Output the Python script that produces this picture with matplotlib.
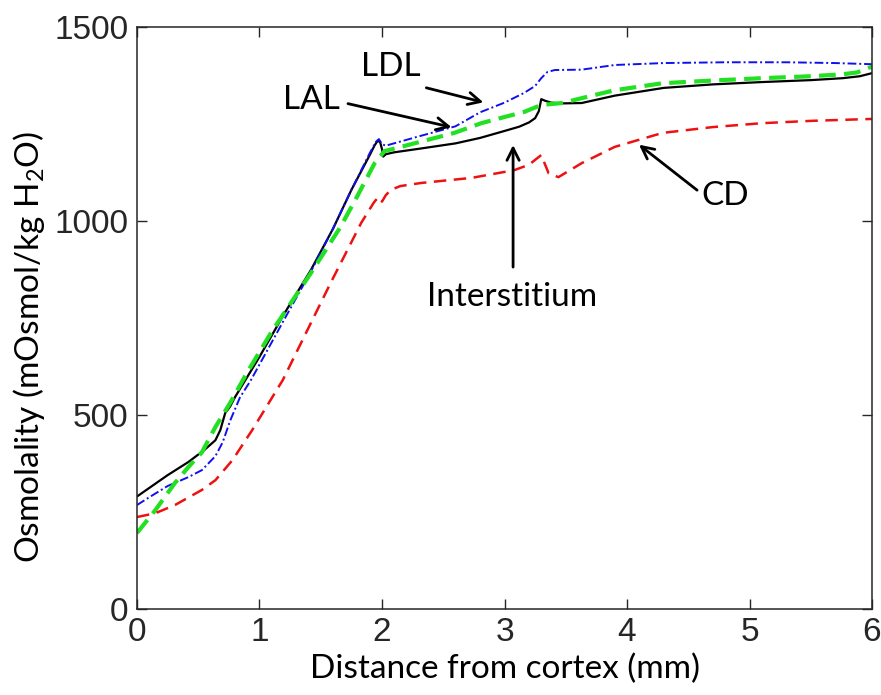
import matplotlib
matplotlib.use("Agg")
import matplotlib.pyplot as plt
import numpy as np

plt.rcParams['mathtext.fontset'] = 'custom'
plt.rcParams['mathtext.rm'] = 'Lato'
plt.rcParams['mathtext.it'] = 'Lato:italic'

##---------- osmolality profiles along the medulla ----------
# interstitium (solid black)
x_int = [0.0, 0.1, 0.25, 0.42, 0.55, 0.64, 0.68, 0.72, 0.76, 0.80, 1.0, 1.2, 1.42,
         1.6, 1.75, 1.9, 1.94, 1.965, 1.985, 2.0, 2.01, 2.03, 2.1, 2.3, 2.6, 2.8, 3.0,
         3.12, 3.2, 3.25, 3.28, 3.30, 3.33, 3.38, 3.47, 3.63, 3.9, 4.3, 4.7, 5.1, 5.5,
         5.76, 5.9, 6.0]
y_int = [290, 312, 345, 379, 410, 435, 461, 505, 522, 546, 650, 760, 874,
         980, 1080, 1170, 1195, 1207, 1203, 1185, 1166, 1172, 1177, 1186, 1200, 1214, 1232,
         1243, 1254, 1265, 1283, 1314, 1310, 1305, 1303, 1304, 1323, 1343, 1352, 1358, 1363,
         1368, 1373, 1381]

# LDL (blue dash-dot)
x_ldl = [0.0, 0.1, 0.25, 0.42, 0.53, 0.64, 0.70, 0.76, 0.84, 0.93, 1.2, 1.42, 1.6,
         1.75, 1.9, 1.95, 1.975, 2.0, 2.03, 2.3, 2.6, 2.8, 3.0, 3.16, 3.25, 3.3, 3.35,
         3.41, 3.63, 3.9, 4.3, 4.8, 5.3, 5.7, 6.0]
y_ldl = [268, 288, 317, 340, 358, 394, 430, 485, 545, 590, 745, 870, 980,
         1080, 1175, 1204, 1211, 1198, 1194, 1218, 1244, 1280, 1305, 1330, 1348, 1368, 1384,
         1389, 1390, 1402, 1407, 1409, 1409, 1407, 1404]

# LAL (green dashed)
x_lal = [0.0, 0.15, 0.31, 0.42, 0.53, 0.64, 0.76, 0.9, 1.1, 1.42, 1.66, 1.8,
         1.94, 2.02, 2.3, 2.59, 2.81, 3.0, 3.16, 3.30, 3.47, 3.7, 3.9, 4.29,
         4.7, 5.1, 5.5, 5.76, 5.88, 5.95, 6.0]
y_lal = [196, 255, 325, 366, 404, 469, 531, 610, 715, 866, 984, 1065,
         1149, 1180, 1203, 1227, 1252, 1268, 1281, 1299, 1304, 1322, 1337, 1355,
         1362, 1368, 1373, 1378, 1383, 1392, 1398]

# CD (red dashed)
x_cd = [0.0, 0.15, 0.31, 0.53, 0.64, 0.78, 0.94, 1.19, 1.58, 1.83, 1.93, 1.97,
        2.0, 2.03, 2.07, 2.15, 2.32, 2.73, 3.08, 3.2, 3.30, 3.36, 3.44, 3.63,
        3.9, 4.29, 4.7, 5.1, 5.5, 6.0]
y_cd = [237, 247, 268, 307, 332, 384, 461, 590, 840, 995, 1046, 1062,
        1050, 1066, 1080, 1090, 1098, 1111, 1131, 1145, 1170, 1123, 1113, 1149,
        1191, 1227, 1242, 1252, 1258, 1263]

fig = plt.figure(figsize=(8.81, 6.95), dpi=100)
ax = fig.add_axes([0.1555, 0.1237, 0.8343, 0.8375])

ax.plot(x_int, y_int, color='k', linewidth=1.6)
ax.plot(x_ldl, y_ldl, color='#1010ee', linewidth=1.4, dashes=(4.5, 1.5, 1, 1.5))
ax.plot(x_lal, y_lal, color='#22e022', linewidth=3.0, dashes=(4, 2))
ax.plot(x_cd, y_cd, color='#ee1111', linewidth=1.8, dashes=(5, 3))

ax.set_xlim([0, 6])
ax.set_ylim([0, 1500])
ax.set_xticks(range(7))
ax.set_yticks([0, 500, 1000, 1500])

gray = '#262626'
for s in ax.spines.values():
    s.set_color(gray)
    s.set_linewidth(1.1)
ax.tick_params(direction='in', length=7, width=1.0, color=gray, top=True, right=True,
               labelsize=24, labelcolor=gray, pad=6)
for lab in ax.get_xticklabels() + ax.get_yticklabels():
    lab.set_family('Liberation Sans')

ax.set_xlabel("Distance from cortex (mm)", family='Lato', fontsize=24, labelpad=4)
ax.set_ylabel("Osmolality (mOsmol/kg H$_2$O)", family='Lato', fontsize=24)
ax.yaxis.set_label_coords(-0.123, 0.45)

# labels with pointer arrows
arrow = dict(arrowstyle='->', color='k', linewidth=2, mutation_scale=22)
txt = dict(family='Lato', fontsize=24, ha='center', va='center')
ax.text(2.07, 1397, "LDL", **txt)
ax.annotate("", xy=(2.85, 1304), xytext=(2.34, 1345), arrowprops=arrow)
ax.text(1.42, 1312, "LAL", **txt)
ax.annotate("", xy=(2.59, 1240), xytext=(1.70, 1304), arrowprops=arrow)
ax.text(3.06, 804, "Interstitium", **txt)
ax.annotate("", xy=(3.07, 1203), xytext=(3.07, 874), arrowprops=arrow)
ax.text(4.80, 1064, "CD", **txt)
ax.annotate("", xy=(4.08, 1201), xytext=(4.59, 1075), arrowprops=arrow)

plt.savefig('out.png', dpi=100)
